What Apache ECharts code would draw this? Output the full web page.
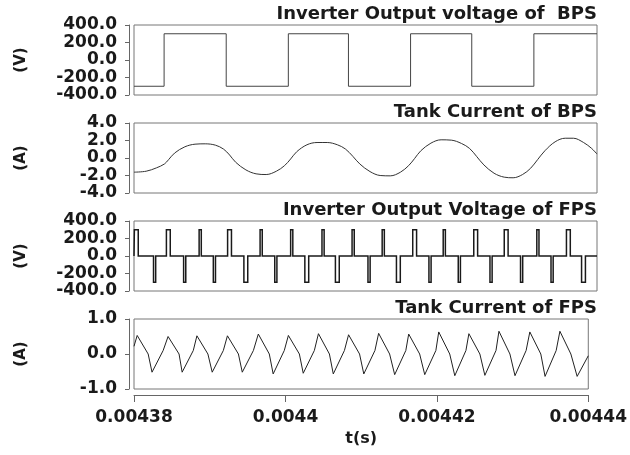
<!DOCTYPE html>
<html><head><meta charset="utf-8">
<script src="https://cdn.jsdelivr.net/npm/echarts@6/dist/echarts.min.js"></script>
<style>html,body{margin:0;padding:0;background:#fff}#c{width:630px;height:455px}</style>
</head><body><div id="c"></div>
<script>
// ---- data (time in microseconds; axis labels shown in seconds) ----
const panelTitles = ['Inverter Output voltage of  BPS', 'Tank Current of BPS', 'Inverter Output Voltage of FPS', 'Tank Current of FPS'];
const panelUnits = ['(V)', '(A)', '(V)', '(A)'];
const yMin = [-400, -4, -400, -1];
const yMax = [400, 4, 400, 1];
const yStep = [200, 2, 200, 1];
const xLabelName = 't(s)';

// Panel 1: BPS inverter voltage, level held from each edge time
const bpsVoltT = [4380.00, 4383.90, 4391.95, 4400.00, 4407.79, 4415.84, 4423.77, 4431.82, 4440.00];
const bpsVoltV = [-300, 300, -300, 300, -300, 300, -300, 300, 300];

// Panel 2: BPS tank current
const bpsCurT = [4380.00, 4381.58, 4382.90, 4383.95, 4384.48, 4385.27, 4386.59, 4387.91, 4389.23, 4390.54, 4391.60, 4392.39, 4393.18, 4394.50, 4395.82, 4397.13, 4398.45, 4399.51, 4400.30, 4401.09, 4402.41, 4403.72, 4405.04, 4406.36, 4407.41, 4408.36, 4409.26, 4410.58, 4411.90, 4413.21, 4414.53, 4415.59, 4416.38, 4417.17, 4418.48, 4419.80, 4421.12, 4422.44, 4423.49, 4424.39, 4425.34, 4426.66, 4427.98, 4429.13, 4430.35, 4431.40, 4432.30, 4433.25, 4434.57, 4435.88, 4436.94, 4438.26, 4439.31, 4440.00];
const bpsCurV = [-1.62, -1.51, -1.13, -0.68, -0.19, 0.57, 1.28, 1.58, 1.62, 1.47, 1.02, 0.34, -0.49, -1.36, -1.81, -1.89, -1.51, -0.87, -0.11, 0.72, 1.51, 1.77, 1.77, 1.51, 1.02, 0.19, -0.68, -1.55, -2.00, -2.04, -1.62, -0.87, -0.04, 0.83, 1.70, 2.08, 2.04, 1.66, 1.09, 0.19, -0.79, -1.74, -2.19, -2.26, -1.89, -1.17, -0.19, 0.83, 1.85, 2.26, 2.26, 1.77, 1.09, 0.45];

// Panel 3: FPS inverter voltage pulses (start time, width, level)
const fpsPulseT = [4380.05, 4382.53, 4384.20, 4386.43, 4388.44, 4390.28, 4392.13, 4394.24, 4396.34, 4398.24, 4400.30, 4402.14, 4404.36, 4406.10, 4408.26, 4410.32, 4412.16, 4414.01, 4416.12, 4418.22, 4420.07, 4422.02, 4424.03, 4426.13, 4427.98, 4430.09, 4432.20, 4434.04, 4436.04, 4438.00];
const fpsPulseW = [0.50, 0.28, 0.50, 0.28, 0.28, 0.28, 0.50, 0.50, 0.28, 0.28, 0.28, 0.50, 0.28, 0.50, 0.28, 0.28, 0.28, 0.50, 0.50, 0.28, 0.28, 0.28, 0.50, 0.28, 0.50, 0.28, 0.28, 0.28, 0.50, 0.50];
const fpsPulseV = [300, -300, 300, -300, 300, -300, 300, -300, 300, -300, 300, -300, 300, -300, 300, -300, 300, -300, 300, -300, 300, -300, 300, -300, 300, -300, 300, -300, 300, -300];

// Panel 4: FPS tank current
const fpsCurT = [4380.00, 4380.42, 4381.87, 4382.38, 4383.85, 4384.50, 4385.95, 4386.36, 4387.83, 4388.31, 4389.76, 4390.33, 4391.80, 4392.34, 4393.79, 4394.30, 4395.77, 4396.42, 4397.87, 4398.38, 4399.85, 4400.39, 4401.84, 4402.35, 4403.82, 4404.36, 4405.81, 4406.32, 4407.79, 4408.34, 4409.79, 4410.35, 4411.82, 4412.31, 4413.76, 4414.43, 4415.90, 4416.28, 4417.73, 4418.40, 4419.87, 4420.25, 4421.70, 4422.37, 4423.84, 4424.23, 4425.68, 4426.34, 4427.81, 4428.20, 4429.65, 4430.32, 4431.79, 4432.28, 4433.73, 4434.29, 4435.76, 4436.25, 4437.70, 4438.53, 4440.00];
const fpsCurV = [0.22, 0.53, 0.00, -0.52, 0.10, 0.50, 0.00, -0.52, 0.10, 0.52, 0.00, -0.52, 0.10, 0.52, 0.00, -0.52, 0.10, 0.57, 0.00, -0.57, 0.10, 0.53, 0.00, -0.55, 0.10, 0.58, 0.00, -0.57, 0.10, 0.55, 0.00, -0.57, 0.10, 0.59, 0.00, -0.59, 0.10, 0.57, 0.00, -0.59, 0.10, 0.63, 0.00, -0.62, 0.10, 0.58, 0.00, -0.61, 0.10, 0.65, 0.00, -0.62, 0.10, 0.63, 0.00, -0.64, 0.10, 0.65, 0.00, -0.64, -0.05];

const xMin = 4380, xMax = 4440, xStep = 20;

// ---- build option ----
const FONT = 'DejaVu Sans';
const TXT = '#1a1a1a';
const gridTops = [25, 123, 221, 319];
const gridH = 70;

const zip = (a, b) => a.map((t, i) => [t, b[i]]);
const pulseLine = [[xMin, 0]];
fpsPulseT.forEach((t, i) => {
  const e = t + fpsPulseW[i];
  pulseLine.push([t, 0], [t, fpsPulseV[i]], [e, fpsPulseV[i]], [e, 0]);
});
pulseLine.push([xMax, 0]);

const seriesData = [zip(bpsVoltT, bpsVoltV), zip(bpsCurT, bpsCurV), pulseLine, zip(fpsCurT, fpsCurV)];
const lineColors = ['#444', '#333', '#1a1a1a', '#222'];
const lineWidths = [1, 1, 1.5, 1];

const option = {
  backgroundColor: '#fff',
  animation: false,
  title: panelTitles.map((t, i) => ({
    text: t, right: 33, top: gridTops[i] - 20, padding: 0,
    textStyle: { fontFamily: FONT, fontSize: 18, fontWeight: 'bold', color: TXT }
  })),
  grid: gridTops.map(top => ({ left: 134, right: 33, top: top, height: gridH, show: true, borderColor: '#777', borderWidth: 1, backgroundColor: 'transparent' })),
  xAxis: gridTops.map((_, i) => ({
    type: 'value', gridIndex: i, min: xMin, max: xMax, interval: xStep,
    show: i === 3, offset: 6,
    name: i === 3 ? xLabelName : '', nameLocation: 'middle', nameGap: 36,
    nameTextStyle: { fontFamily: FONT, fontSize: 16, fontWeight: 'bold', color: TXT },
    axisLine: { show: true, onZero: false, lineStyle: { color: '#666', width: 1 } },
    axisTick: { show: true, length: 7, lineStyle: { color: '#666' } },
    splitLine: { show: false },
    axisLabel: { margin: 14, fontFamily: FONT, fontSize: 17, fontWeight: 'bold', color: TXT,
      formatter: v => String(+(v * 1e-6).toFixed(5)) }
  })),
  yAxis: gridTops.map((_, i) => ({
    type: 'value', gridIndex: i, min: yMin[i], max: yMax[i], interval: yStep[i], offset: 5,
    name: panelUnits[i], nameLocation: 'middle', nameGap: 100, nameRotate: 90,
    nameTextStyle: { fontFamily: FONT, fontSize: 15, fontWeight: 'bold', color: TXT },
    axisLine: { show: true, onZero: false, lineStyle: { color: '#666', width: 1 } },
    axisTick: { show: true, length: 4, lineStyle: { color: '#666' } },
    splitLine: { show: false },
    axisLabel: { margin: 12, fontFamily: FONT, fontSize: 17, fontWeight: 'bold', color: TXT,
      formatter: v => v.toFixed(1) }
  })),
  series: seriesData.map((d, i) => ({
    type: 'line', xAxisIndex: i, yAxisIndex: i, data: d,
    showSymbol: false, symbol: 'none',
    step: i === 0 ? 'end' : false,
    smooth: i === 1 ? 0.35 : false,
    lineStyle: { color: lineColors[i], width: lineWidths[i], join: 'miter' }
  }))
};

const chart = echarts.init(document.getElementById('c'), null, { renderer: 'canvas' });
chart.setOption(option);
</script>
</body></html>
